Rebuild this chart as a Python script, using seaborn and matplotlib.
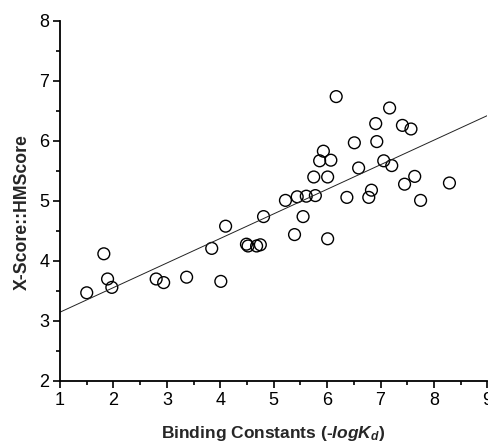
import numpy as np
import pandas as pd
import matplotlib
matplotlib.use("Agg")
import matplotlib.pyplot as plt
from matplotlib.ticker import MultipleLocator
import seaborn as sns

binding_constants = [1.50, 1.82, 1.89, 1.97, 2.80, 2.94, 3.37, 3.84, 4.01, 4.10,
                     4.49, 4.52, 4.68, 4.75, 4.81, 5.22, 5.39, 5.44, 5.55, 5.61,
                     5.75, 5.78, 5.86, 5.93, 6.01, 6.01, 6.07, 6.17, 6.37, 6.51,
                     6.59, 6.78, 6.83, 6.91, 6.93, 7.06, 7.17, 7.21, 7.41, 7.45,
                     7.57, 7.64, 7.75, 8.29]
xscore_hmscore = [3.47, 4.12, 3.70, 3.56, 3.70, 3.64, 3.73, 4.21, 3.66, 4.58,
                  4.28, 4.25, 4.25, 4.27, 4.74, 5.01, 4.44, 5.07, 4.74, 5.08,
                  5.40, 5.09, 5.67, 5.83, 5.40, 4.37, 5.68, 6.74, 5.06, 5.97,
                  5.55, 5.06, 5.18, 6.29, 5.99, 5.67, 6.55, 5.59, 6.26, 5.28,
                  6.20, 5.41, 5.01, 5.30]
x_ticks = [1, 2, 3, 4, 5, 6, 7, 8, 9]
y_ticks = [2, 3, 4, 5, 6, 7, 8]

df = pd.DataFrame({"x": binding_constants, "y": xscore_hmscore})

sns.set_style("ticks")
plt.rcParams["font.family"] = ["Liberation Sans", "DejaVu Sans"]
plt.rcParams["mathtext.fontset"] = "custom"
plt.rcParams["mathtext.rm"] = "Liberation Sans"
plt.rcParams["mathtext.it"] = "Liberation Sans:italic"
plt.rcParams["mathtext.bf"] = "Liberation Sans:bold"
plt.rcParams["mathtext.bfit"] = "Liberation Sans:bold:italic"

fig = plt.figure(figsize=(4.88, 4.43), dpi=100)
ax = fig.add_axes([0.123, 0.14, 0.8757, 0.8126])
ax.set_xlim(1, 9)
ax.set_ylim(2, 8)

sns.regplot(data=df, x="x", y="y", ax=ax, ci=None, truncate=False,
            scatter_kws=dict(s=72, facecolors="none", edgecolors="black",
                             linewidths=1.0, alpha=1),
            line_kws=dict(color="#222222", linewidth=0.7))

ax.set_xlim(1, 9)
ax.set_ylim(2, 8)
ax.set_xticks(x_ticks)
ax.set_yticks(y_ticks)
ax.xaxis.set_minor_locator(MultipleLocator(0.5))
ax.yaxis.set_minor_locator(MultipleLocator(0.5))
ax.tick_params(which="major", length=4.7, width=1.2, labelsize=13, color="black",
               labelcolor="black", direction="out", pad=3)
ax.tick_params(which="minor", length=3, width=1.2, color="black", direction="out")
for side in ["top", "right"]:
    ax.spines[side].set_visible(False)
for side in ["left", "bottom"]:
    ax.spines[side].set_linewidth(1.3)
    ax.spines[side].set_color("black")

ax.set_xlabel(r"Binding Constants (-$\mathbfit{logK}_{\mathbfit{d}}$)",
              fontsize=12.5, fontweight="bold", labelpad=11)
ax.set_ylabel("X-Score::HMScore", fontsize=12.7, fontweight="bold")
ax.yaxis.set_label_coords(-0.069, 0.469)

fig.savefig("out.png", dpi=100)
